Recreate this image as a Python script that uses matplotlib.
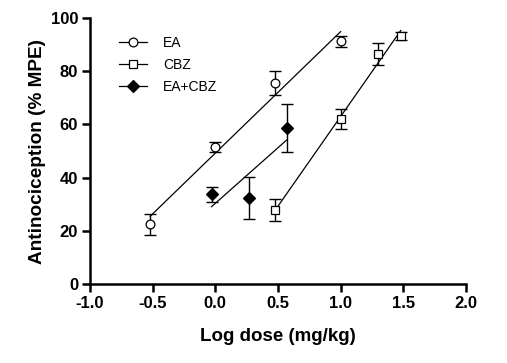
import numpy as np
import matplotlib
matplotlib.use("Agg")
import matplotlib.pyplot as plt

plt.rcParams['font.family'] = ['Liberation Sans', 'DejaVu Sans']

ea_x = [-0.52, 0.0, 0.48, 1.0]
ea_y = [22.5, 51.5, 75.5, 91.3]
ea_err = [4.0, 2.0, 4.5, 2.0]

cbz_x = [0.48, 1.0, 1.30, 1.48]
cbz_y = [27.8, 62.0, 86.5, 93.2]
cbz_err = [4.0, 3.8, 4.0, 1.5]

mix_x = [-0.03, 0.27, 0.57]
mix_y = [33.7, 32.4, 58.8]
mix_err = [2.7, 8.0, 9.0]

xticks = [-1.0, -0.5, 0.0, 0.5, 1.0, 1.5, 2.0]
yticks = [0, 20, 40, 60, 80, 100]

fig = plt.figure(figsize=(5.07, 3.63), dpi=100)
ax = fig.add_axes([0.1775, 0.2176, 0.7415, 0.7324])

def series(x, y, err, marker, mfc, label, ms):
    x = np.array(x); y = np.array(y)
    ax.errorbar(x, y, yerr=err, fmt='none', ecolor='black', elinewidth=1.0,
                capsize=4, capthick=1.0, zorder=2)
    k, b = np.polyfit(x, y, 1)
    xx = np.array([x.min(), x.max()])
    ax.plot(xx, k * xx + b, color='black', lw=0.9, zorder=1)
    ax.plot(x, y, linestyle='none', marker=marker, mfc=mfc, mec='black',
            mew=0.9, ms=ms, zorder=3)
    ax.plot([], [], color='black', lw=0.9, marker=marker, mfc=mfc, mec='black',
            mew=0.9, ms=ms, label=label)

series(ea_x, ea_y, ea_err, 'o', 'white', 'EA', 6.3)
series(cbz_x, cbz_y, cbz_err, 's', 'white', 'CBZ', 6.3)
series(mix_x, mix_y, mix_err, 'D', 'black', 'EA+CBZ', 5.8)

ax.set_xlim(-1.0, 2.0)
ax.set_ylim(0, 100)
ax.set_xticks(xticks)
ax.set_xticklabels([f"{t:.1f}" for t in xticks])
ax.set_yticks(yticks)
for s in ['top', 'right']:
    ax.spines[s].set_visible(False)
for s in ['left', 'bottom']:
    ax.spines[s].set_linewidth(1.8)
ax.tick_params(axis='both', width=1.8, length=6, labelsize=12, direction='out', pad=2.5)
for lab in ax.get_xticklabels() + ax.get_yticklabels():
    lab.set_fontweight('bold')
ax.set_xlabel('Log dose (mg/kg)', fontsize=13.5, fontweight='bold')
ax.set_ylabel('Antinociception (% MPE)', fontsize=13.7, fontweight='bold')
ax.xaxis.set_label_coords(0.5, -0.165)
ax.yaxis.set_label_coords(-0.117, 0.5)

leg = ax.legend(loc='upper left', bbox_to_anchor=(119 / 507, 1 - 36 / 363),
                bbox_transform=fig.transFigure, frameon=False, borderpad=0,
                borderaxespad=0, fontsize=10, handlelength=2.0,
                labelspacing=0.58, handletextpad=1.15)

fig.savefig('out.png', dpi=100)
